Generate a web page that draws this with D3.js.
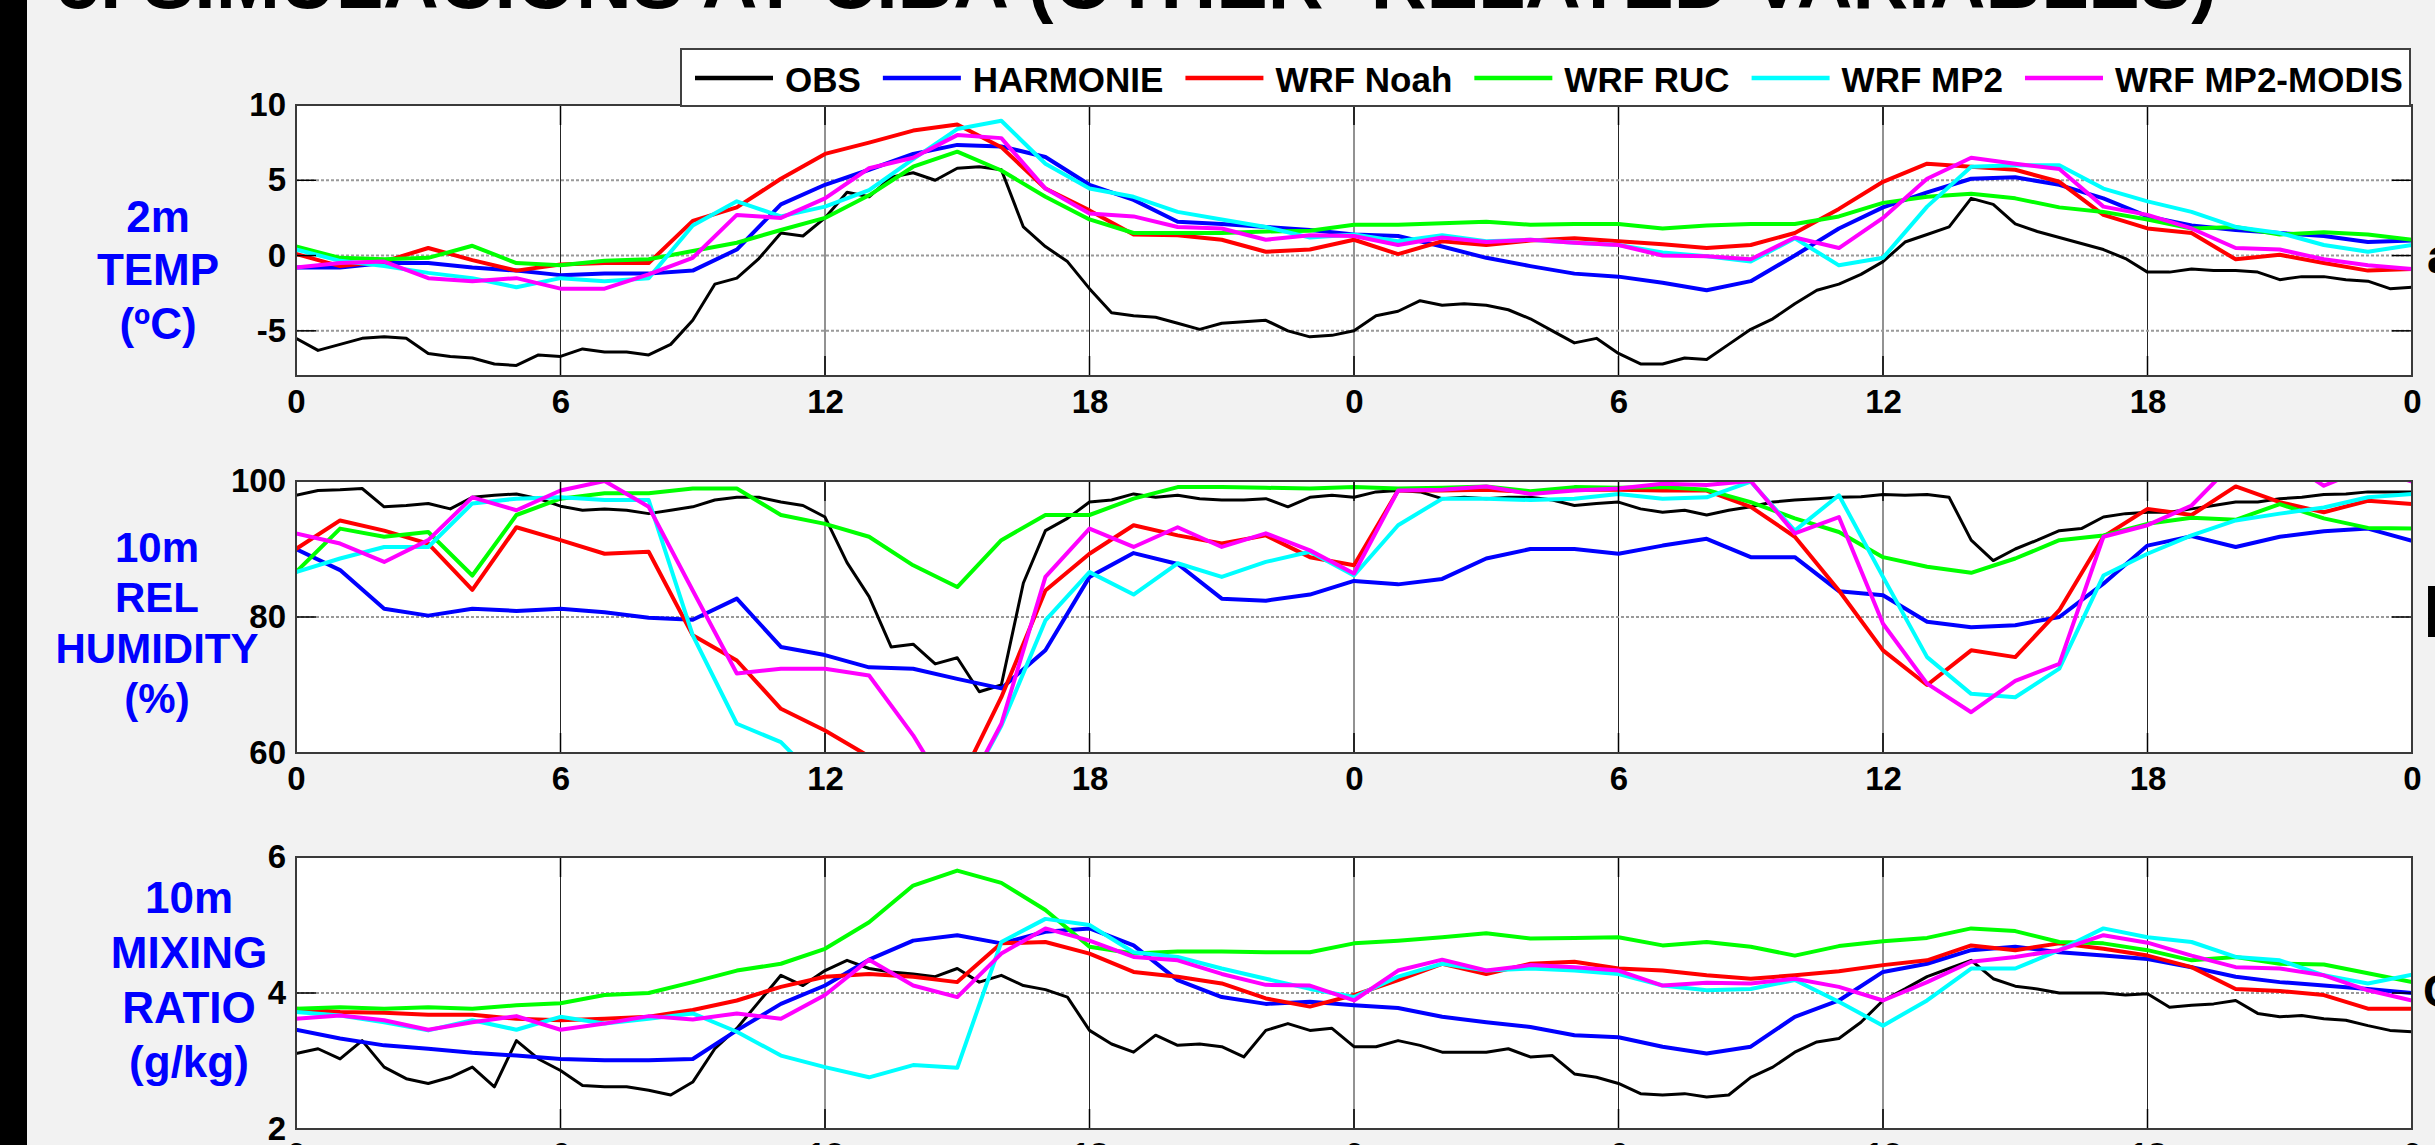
<!DOCTYPE html>
<html>
<head>
<meta charset="utf-8">
<title>Simulations at CIBA - other related variables</title>
<script src="https://d3js.org/d3.v7.min.js"></script>
<style>
  body { margin: 0; background: #f2f2f2; }
  svg text { font-family: "Liberation Sans", Arial, Helvetica, sans-serif; font-weight: bold; }
</style>
</head>
<body>
<script>
var W = 2435, H = 1145;

var titleText = "5. SIMULACIONS AT CIBA (OTHER- RELATED VARIABLES)";
var seriesNames = ["OBS", "HARMONIE", "WRF Noah", "WRF RUC", "WRF MP2", "WRF MP2-MODIS"];
var seriesColors = ["#000000", "#0000ff", "#ff0000", "#00ff00", "#00ffff", "#ff00ff"];
var xTickHours = [0, 6, 12, 18, 24, 30, 36, 42, 48];
var obsStep = 0.5, modelStep = 1;   // hours between points

// ---- 2m temperature (C)
var obsTemp = [-5.5,-6.3,-5.9,-5.5,-5.4,-5.5,-6.5,-6.7,-6.8,-7.2,
  -7.3,-6.6,-6.7,-6.2,-6.4,-6.4,-6.6,-5.9,-4.3,-1.9,
  -1.5,-0.2,1.5,1.3,2.5,4.2,3.9,5.2,5.5,5.0,
  5.8,5.9,5.7,1.9,0.6,-0.4,-2.2,-3.8,-4.0,-4.1,
  -4.5,-4.9,-4.5,-4.4,-4.3,-5.0,-5.4,-5.3,-5.0,-4.0,
  -3.7,-3.0,-3.3,-3.2,-3.3,-3.6,-4.2,-5.0,-5.8,-5.5,
  -6.5,-7.2,-7.2,-6.8,-6.9,-5.9,-4.9,-4.2,-3.2,-2.3,
  -1.9,-1.25,-0.4,0.9,1.4,1.9,3.8,3.4,2.1,1.6,
  1.2,0.8,0.4,-0.2,-1.1,-1.1,-0.9,-1.0,-1.0,-1.1,
  -1.6,-1.4,-1.4,-1.6,-1.7,-2.2,-2.1];
var harmTemp = [-0.8,-0.8,-0.5,-0.5,-0.8,-1.0,-1.3,-1.2,-1.2,-1.0,
  0.4,3.4,4.7,5.7,6.75,7.35,7.25,6.55,4.7,3.7,
  2.25,2.1,1.9,1.7,1.4,1.3,0.6,-0.15,-0.7,-1.2,
  -1.4,-1.8,-2.3,-1.7,0.0,1.8,3.2,4.2,5.1,5.2,
  4.7,3.8,2.6,2.0,1.7,1.5,1.3,0.9,1.0];
var noahTemp = [0.1,-0.7,-0.4,0.5,-0.3,-1.0,-0.6,-0.5,-0.5,2.3,
  3.2,5.1,6.75,7.5,8.3,8.7,7.2,4.45,3.0,1.4,
  1.35,1.05,0.25,0.4,1.05,0.1,0.95,0.7,1.0,1.15,
  0.95,0.75,0.5,0.7,1.5,3.1,4.9,6.1,5.9,5.7,
  4.9,2.7,1.8,1.5,-0.25,0.05,-0.5,-1.0,-0.9];
var rucTemp = [0.6,-0.15,-0.25,-0.15,0.65,-0.5,-0.65,-0.35,-0.25,0.3,
  0.85,1.7,2.5,4.0,5.9,6.9,5.65,3.9,2.4,1.5,
  1.5,1.5,1.6,1.65,2.05,2.05,2.15,2.25,2.05,2.1,
  2.1,1.8,2.0,2.1,2.1,2.6,3.5,3.9,4.1,3.8,
  3.2,2.9,2.4,1.8,1.9,1.4,1.55,1.4,1.05];
var mp2Temp = [0.4,-0.35,-0.7,-1.15,-1.5,-2.1,-1.5,-1.7,-1.5,2.0,
  3.6,2.6,3.25,4.35,6.4,8.4,8.95,6.1,4.45,3.9,
  2.9,2.4,1.9,1.2,1.4,0.95,1.35,0.95,1.05,0.85,
  0.7,0.2,-0.05,-0.4,1.15,-0.65,-0.15,3.25,5.9,6.0,
  6.0,4.45,3.6,2.9,1.9,1.5,0.7,0.25,0.7];
var modisTemp = [-0.8,-0.5,-0.4,-1.5,-1.7,-1.5,-2.2,-2.2,-1.25,-0.15,
  2.7,2.5,3.8,5.8,6.5,8.0,7.8,4.45,2.8,2.6,
  1.9,1.8,1.05,1.35,1.3,0.7,1.2,0.9,1.05,0.85,
  0.7,0.0,-0.05,-0.25,1.2,0.5,2.5,5.1,6.5,6.1,
  5.75,3.25,2.7,1.8,0.5,0.4,-0.25,-0.65,-0.9];

// ---- 10m relative humidity (%)
var obsRH = [97.9,98.6,98.7,98.9,96.2,96.4,96.7,95.9,97.6,97.9,
  98.1,97.4,96.3,95.7,95.9,95.7,95.2,95.7,96.2,97.2,
  97.6,97.6,96.9,96.4,94.7,88.0,83.0,75.6,76.0,73.1,
  74.0,69.0,70.0,85.0,92.7,94.5,96.9,97.2,98.1,97.6,
  97.9,97.4,97.2,97.2,97.4,96.2,97.6,97.9,97.6,98.4,
  98.6,98.4,97.4,97.6,97.4,97.6,97.6,97.2,96.4,96.7,
  96.9,95.9,95.4,95.7,95.0,95.7,96.2,96.9,97.2,97.4,
  97.6,97.7,98.0,97.9,98.0,97.6,91.3,88.3,90.0,91.3,
  92.7,93.0,94.7,95.2,95.4,95.4,95.9,96.4,96.9,96.9,
  97.4,97.6,98.0,98.1,98.4,98.4,98.4];
var harmRH = [90.0,86.9,81.2,80.2,81.2,80.9,81.2,80.7,79.9,79.6,
  82.7,75.6,74.4,72.6,72.4,70.9,69.5,75.1,85.9,89.4,
  87.8,82.7,82.4,83.3,85.3,84.8,85.6,88.6,90.0,90.0,
  89.3,90.5,91.5,88.8,88.8,83.8,83.2,79.3,78.5,78.8,
  80.0,84.9,90.5,91.9,90.3,91.8,92.6,93.0,91.2];
var noahRH = [90.0,94.2,92.7,90.8,84.0,93.2,91.3,89.3,89.6,77.3,
  73.6,66.5,63.3,59.5,57.0,55.0,68.2,83.9,89.3,93.5,
  92.0,90.8,92.0,88.8,87.6,98.6,98.6,98.7,98.4,98.7,
  98.7,98.6,98.6,96.2,91.8,83.9,75.1,70.0,75.1,74.1,
  81.0,91.8,95.9,95.0,99.2,96.9,95.4,97.1,96.6];
var rucRH = [86.6,93.0,91.8,92.5,86.1,95.0,97.4,98.2,98.2,98.9,
  98.9,95.0,93.7,91.8,87.6,84.4,91.3,95.0,95.0,97.4,
  99.1,99.1,99.0,98.9,99.1,98.9,99.0,99.2,98.5,99.1,
  99.0,99.1,98.7,96.9,94.5,92.5,88.8,87.4,86.5,88.6,
  91.3,92.0,93.7,94.6,94.3,96.6,94.5,93.1,93.0];
var mp2RH = [86.6,88.6,90.3,90.3,96.7,97.4,97.6,97.2,97.2,77.3,
  64.3,61.6,55.0,51.0,49.0,52.0,64.0,79.5,86.6,83.3,
  87.9,85.9,88.1,89.6,86.1,93.5,97.4,97.4,97.2,97.4,
  98.1,97.4,97.6,99.9,92.7,97.9,85.9,74.1,68.7,68.2,
  72.4,86.1,89.3,92.0,94.2,95.2,96.1,97.6,98.1];
var modisRH = [92.3,90.8,88.1,91.3,97.6,95.7,98.6,100.0,96.2,83.9,
  71.7,72.4,72.4,71.4,62.6,52.0,64.3,85.9,93.0,90.3,
  93.2,90.3,92.3,89.8,86.4,98.6,98.7,99.2,98.1,98.6,
  98.9,99.6,99.4,100.0,92.3,94.7,79.0,70.2,66.0,70.6,
  73.1,91.8,93.5,96.4,103.0,103.5,99.3,102.0,99.9];

// ---- 10m mixing ratio (g/kg)
var obsMR = [3.11,3.18,3.03,3.30,2.91,2.74,2.67,2.76,2.91,2.62,
  3.30,3.03,2.86,2.64,2.62,2.62,2.57,2.50,2.69,3.18,
  3.48,3.87,4.26,4.11,4.33,4.48,4.36,4.31,4.28,4.24,
  4.36,4.16,4.26,4.11,4.05,3.94,3.45,3.25,3.13,3.38,
  3.23,3.25,3.21,3.06,3.45,3.55,3.45,3.48,3.21,3.21,
  3.30,3.23,3.13,3.13,3.13,3.18,3.06,3.08,2.81,2.76,
  2.67,2.52,2.50,2.52,2.47,2.50,2.76,2.91,3.13,3.28,
  3.33,3.57,3.89,4.06,4.24,4.36,4.48,4.21,4.10,4.06,
  4.00,4.00,4.00,3.97,3.99,3.79,3.82,3.84,3.89,3.70,
  3.65,3.67,3.62,3.60,3.52,3.45,3.43];
var harmMR = [3.46,3.33,3.23,3.18,3.12,3.08,3.03,3.01,3.01,3.03,
  3.45,3.84,4.11,4.49,4.77,4.85,4.73,4.90,4.95,4.70,
  4.19,3.94,3.84,3.87,3.82,3.78,3.65,3.57,3.50,3.38,
  3.35,3.21,3.11,3.21,3.65,3.89,4.31,4.43,4.63,4.68,
  4.60,4.55,4.50,4.38,4.24,4.16,4.11,4.06,4.00];
var noahMR = [3.77,3.72,3.71,3.68,3.68,3.62,3.60,3.62,3.65,3.75,
  3.89,4.09,4.24,4.28,4.24,4.16,4.73,4.75,4.58,4.31,
  4.24,4.14,3.92,3.80,3.97,4.19,4.43,4.28,4.43,4.46,
  4.36,4.33,4.26,4.21,4.26,4.32,4.41,4.48,4.70,4.63,
  4.73,4.65,4.55,4.38,4.06,4.03,3.97,3.77,3.77];
var rucMR = [3.77,3.79,3.77,3.79,3.77,3.82,3.85,3.97,4.00,4.16,
  4.33,4.43,4.65,5.04,5.58,5.80,5.62,5.22,4.68,4.58,
  4.61,4.61,4.60,4.60,4.73,4.77,4.82,4.88,4.80,4.81,
  4.82,4.70,4.75,4.68,4.55,4.69,4.76,4.81,4.95,4.91,
  4.75,4.73,4.63,4.48,4.53,4.43,4.42,4.29,4.16];
var mp2MR = [3.72,3.67,3.57,3.45,3.60,3.46,3.65,3.55,3.62,3.70,
  3.43,3.08,2.91,2.76,2.94,2.90,4.75,5.09,5.00,4.60,
  4.53,4.36,4.21,4.06,3.94,4.24,4.43,4.33,4.36,4.33,
  4.28,4.11,4.04,4.06,4.19,3.87,3.52,3.89,4.36,4.36,
  4.63,4.95,4.82,4.75,4.53,4.48,4.26,4.14,4.27];
var modisMR = [3.62,3.67,3.60,3.46,3.57,3.66,3.46,3.55,3.66,3.61,
  3.70,3.62,3.97,4.49,4.11,3.94,4.58,4.95,4.77,4.53,
  4.48,4.28,4.12,4.11,3.89,4.33,4.49,4.33,4.41,4.38,
  4.33,4.11,4.15,4.14,4.21,4.09,3.89,4.16,4.46,4.53,
  4.63,4.85,4.74,4.55,4.38,4.36,4.26,4.04,3.89];

var panels = [
  { top: 105, bottom: 376, domain: [-8, 10], ticks: [-5, 0, 5, 10],
    label: ["2m", "TEMP", "(ºC)"], lx: 158, ly: [232, 285, 339], lsize: 44,
    data: [obsTemp, harmTemp, noahTemp, rucTemp, mp2Temp, modisTemp] },
  { top: 481, bottom: 753, domain: [60, 100], ticks: [60, 80, 100],
    label: ["10m", "REL", "HUMIDITY", "(%)"], lx: 157, ly: [562, 612, 663, 713], lsize: 42,
    data: [obsRH, harmRH, noahRH, rucRH, mp2RH, modisRH] },
  { top: 857, bottom: 1129, domain: [2, 6], ticks: [2, 4, 6],
    label: ["10m", "MIXING", "RATIO", "(g/kg)"], lx: 189, ly: [913, 968, 1023, 1077], lsize: 44,
    data: [obsMR, harmMR, noahMR, rucMR, mp2MR, modisMR] }
];

var svg = d3.select("body").append("svg").attr("width", W).attr("height", H);
svg.append("rect").attr("width", W).attr("height", H).attr("fill", "#f2f2f2");
svg.append("rect").attr("x", 0).attr("y", 0).attr("width", 27).attr("height", H).attr("fill", "#000");

// title, mostly cut off by the top edge
svg.append("text").attr("x", 57).attr("y", 8)
  .attr("font-size", 78).attr("textLength", 2160).attr("lengthAdjust", "spacingAndGlyphs")
  .attr("fill", "#000").text(titleText);

var x = d3.scaleLinear().domain([0, 48]).range([296, 2412]);
var defs = svg.append("defs");

panels.forEach(function(p, k) {
  var y = d3.scaleLinear().domain(p.domain).range([p.bottom, p.top]);
  var g = svg.append("g");

  g.append("rect").attr("x", x(0)).attr("y", p.top)
    .attr("width", x(48) - x(0)).attr("height", p.bottom - p.top).attr("fill", "#fff");

  // grid
  g.selectAll(".vgrid").data(xTickHours).enter().append("line")
    .attr("x1", function(d) { return x(d); }).attr("x2", function(d) { return x(d); })
    .attr("y1", p.top).attr("y2", p.bottom)
    .attr("stroke", "#000").attr("stroke-width", 1).attr("opacity", 0.85);
  g.selectAll(".hgrid").data(p.ticks).enter().append("line")
    .attr("x1", x(0)).attr("x2", x(48))
    .attr("y1", function(d) { return y(d); }).attr("y2", function(d) { return y(d); })
    .attr("stroke", "#999").attr("stroke-width", 2).attr("stroke-dasharray", "3,2");

  // series
  defs.append("clipPath").attr("id", "clip" + k).append("rect")
    .attr("x", x(0)).attr("y", p.top).attr("width", x(48) - x(0)).attr("height", p.bottom - p.top);
  var lines = g.append("g").attr("clip-path", "url(#clip" + k + ")");
  p.data.forEach(function(vals, s) {
    var step = s === 0 ? obsStep : modelStep;
    var line = d3.line()
      .x(function(d, i) { return x(i * step); })
      .y(function(d) { return y(d); });
    lines.append("path").attr("d", line(vals))
      .attr("fill", "none").attr("stroke", seriesColors[s])
      .attr("stroke-width", s === 0 ? 3 : 4)
      .attr("stroke-linejoin", "round");
  });

  // inner tick marks
  var tl = 20;
  xTickHours.forEach(function(h) {
    g.append("line").attr("x1", x(h)).attr("x2", x(h)).attr("y1", p.top).attr("y2", p.top + tl)
      .attr("stroke", "#000").attr("stroke-width", 1.5);
    g.append("line").attr("x1", x(h)).attr("x2", x(h)).attr("y1", p.bottom - tl).attr("y2", p.bottom)
      .attr("stroke", "#000").attr("stroke-width", 1.5);
  });
  p.ticks.forEach(function(v) {
    g.append("line").attr("x1", x(0)).attr("x2", x(0) + tl).attr("y1", y(v)).attr("y2", y(v))
      .attr("stroke", "#000").attr("stroke-width", 1.5);
    g.append("line").attr("x1", x(48) - tl).attr("x2", x(48)).attr("y1", y(v)).attr("y2", y(v))
      .attr("stroke", "#000").attr("stroke-width", 1.5);
  });

  g.append("rect").attr("x", x(0)).attr("y", p.top)
    .attr("width", x(48) - x(0)).attr("height", p.bottom - p.top)
    .attr("fill", "none").attr("stroke", "#3a3a3a").attr("stroke-width", 2);

  // axes labels
  var xa = g.append("g").attr("transform", "translate(0," + p.bottom + ")")
    .call(d3.axisBottom(x).tickValues(xTickHours).tickSize(0).tickPadding(14)
      .tickFormat(function(h) { return String(h % 24); }));
  xa.select(".domain").remove();
  xa.selectAll("text").attr("font-size", 33).attr("font-family", null).attr("fill", "#000");

  var ya = g.append("g").attr("transform", "translate(" + x(0) + ",0)")
    .call(d3.axisLeft(y).tickValues(p.ticks).tickSize(0).tickPadding(10)
      .tickFormat(function(v) { return String(v); }));
  ya.select(".domain").remove();
  ya.selectAll("text").attr("font-size", 33).attr("font-family", null).attr("fill", "#000");

  var lab = g.append("text").attr("text-anchor", "middle").attr("fill", "#0000ff")
    .attr("font-size", p.lsize);
  p.label.forEach(function(t, i) {
    lab.append("tspan").attr("x", p.lx).attr("y", p.ly[i]).text(t);
  });
});

// legend
var leg = svg.append("g");
leg.append("rect").attr("x", 681).attr("y", 49).attr("width", 1729).attr("height", 57)
  .attr("fill", "#fff").attr("stroke", "#404040").attr("stroke-width", 2);
var lx = 695;
seriesNames.forEach(function(name, s) {
  leg.append("line").attr("x1", lx).attr("x2", lx + 78).attr("y1", 78).attr("y2", 78)
    .attr("stroke", seriesColors[s]).attr("stroke-width", 4.5);
  var t = leg.append("text").attr("x", lx + 90).attr("y", 92).attr("font-size", 35)
    .attr("fill", "#000").text(name);
  lx += 90 + t.node().getComputedTextLength() + 22;
});

// letters of the neighbouring slide text, cut by the right edge
svg.append("text").attr("x", 2427).attr("y", 273).attr("font-size", 48).text("a");
svg.append("text").attr("x", 2423).attr("y", 637).attr("font-size", 75).text("F");
svg.append("text").attr("x", 2423).attr("y", 1007).attr("font-size", 47).text("C");
</script>
</body>
</html>
